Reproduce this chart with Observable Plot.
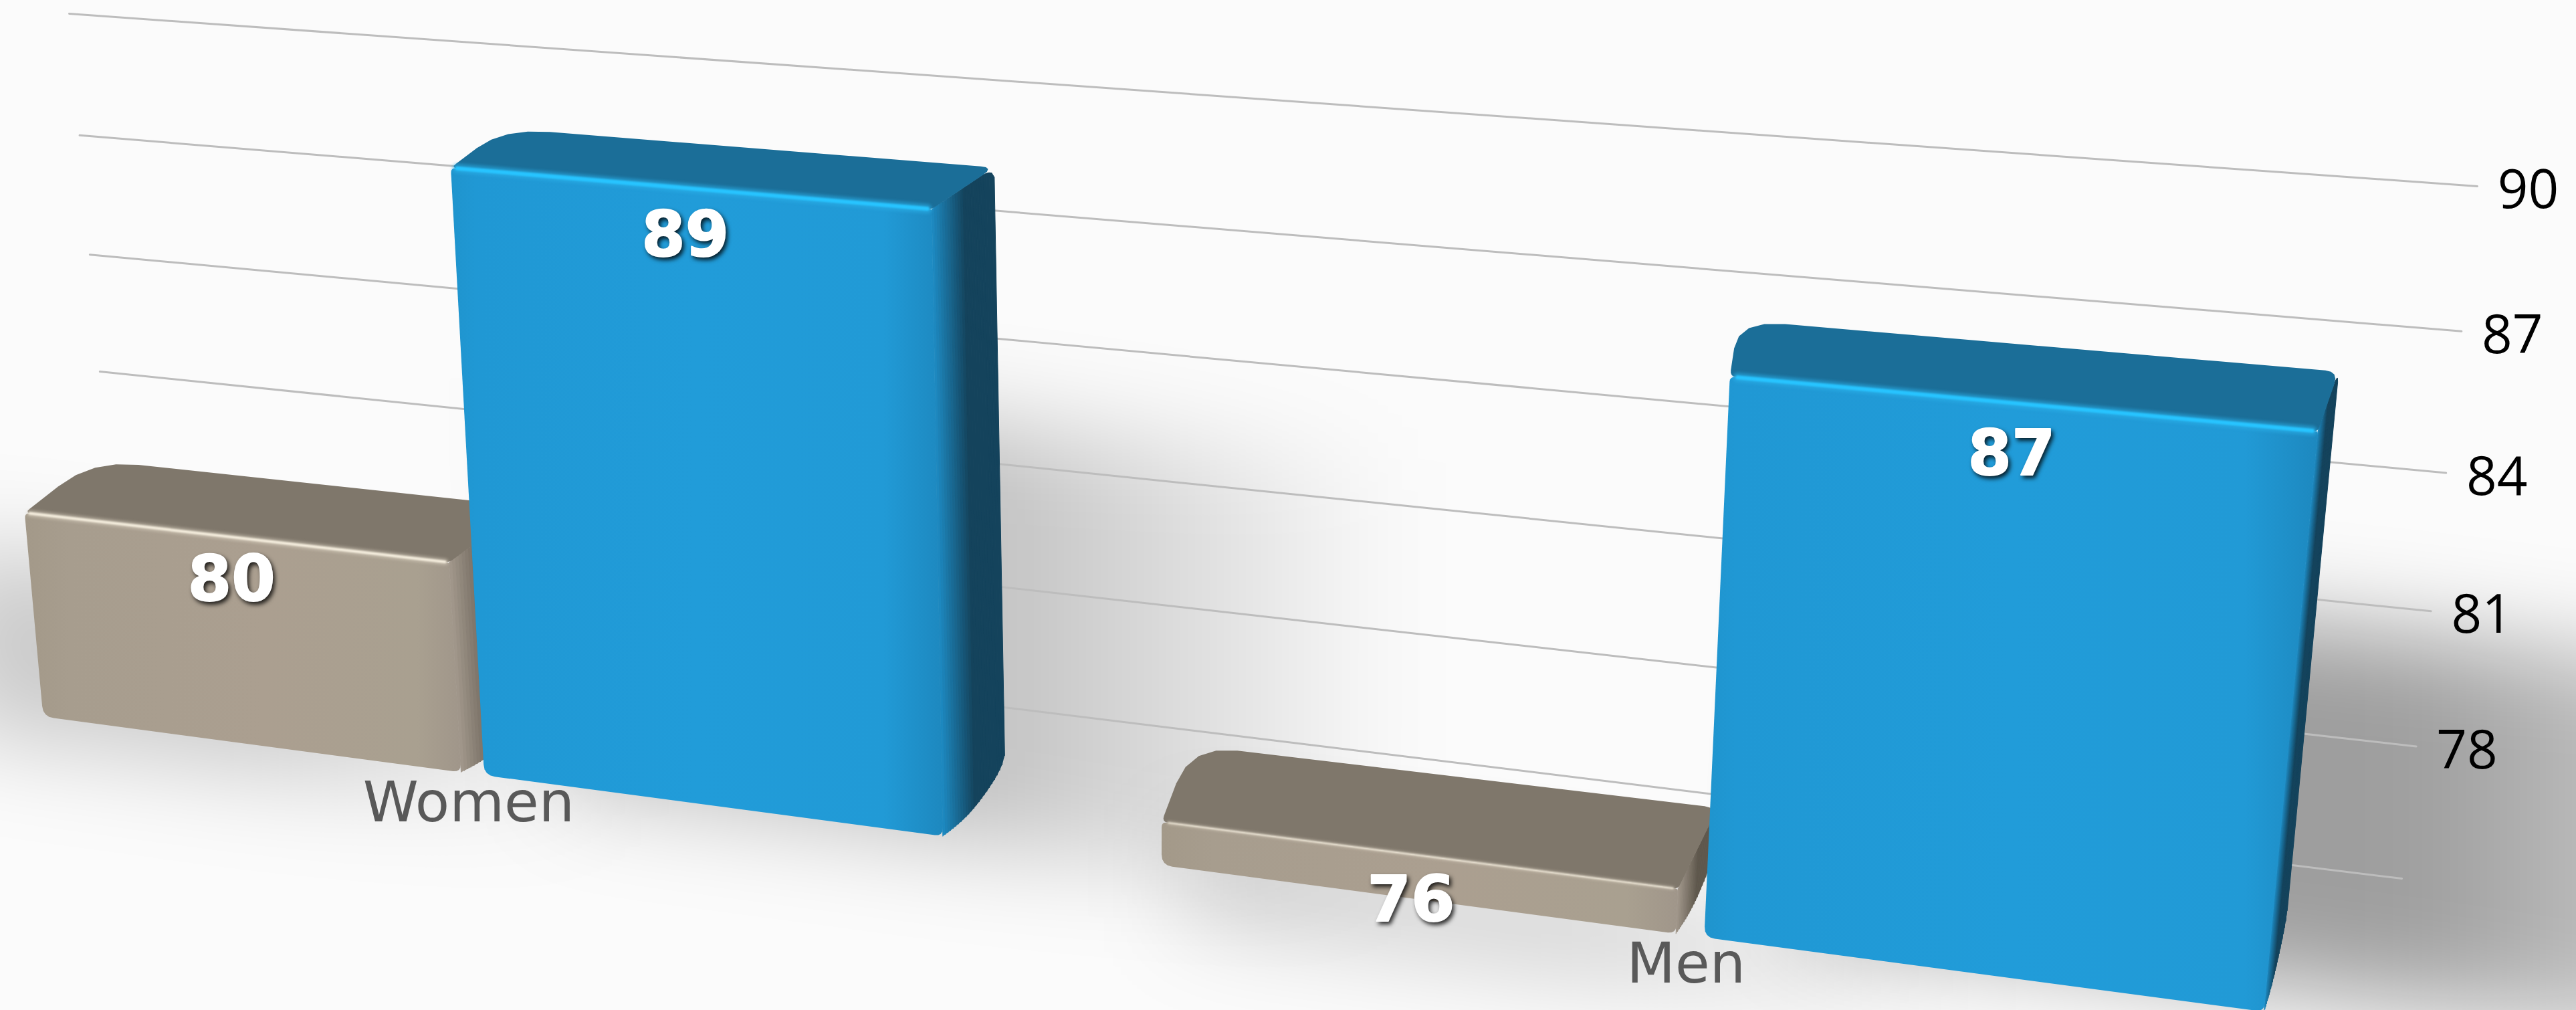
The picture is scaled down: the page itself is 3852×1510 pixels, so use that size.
<!DOCTYPE html>
<html>
<head>
<meta charset="utf-8">
<style>
  html, body { margin: 0; padding: 0; background: #fbfbfb; }
  svg { display: block; }
</style>
<script src="https://cdn.jsdelivr.net/npm/d3@7"></script>
<script src="https://cdn.jsdelivr.net/npm/@observablehq/plot@0.6"></script>
</head>
<body>
<script>
// Chart values
const categories = ["Women", "Men"];
const seriesNames = ["Group A", "Group B"];
const womenValues = [80, 89];
const menValues = [76, 87];
const gridValues = [75, 78, 81, 84, 87, 90];
const tickValues = [78, 81, 84, 87, 90];

const WIDTH = 3852, HEIGHT = 1510;

// Colour sets and shadow reach for the two series; the two-item lists run per category
const palette = {
  "Group A": {
    gradient: "brownFront", top: "#7f776b", sideFrom: "#a0968a", sideTo: "#5f584d",
    glow: "#d9d0c0", edge: "#f4eddd", edgeWidth: [4, 2],
    shadow: {before: [0.05, -0.01], after: [0.08, 0.12], below: [0.7, 1.2], rise: 0.8, opacity: [0.19, 0.17]}
  },
  "Group B": {
    gradient: "blueFront", top: "#1b6e98", sideFrom: "#1d88bf", sideTo: "#14435c",
    glow: "#2aaee8", edge: "#27c4ff", edgeWidth: [6, 5],
    shadow: {before: [-0.04, -0.04], after: [0.2, 0.25], below: [0.1, -0.6], rise: 0.68, opacity: [0.23, 0.37]}
  }
};

// Plot scales: value to chart height, category and series to chart breadth
const valueScale = Plot.scale({y: {domain: [75, 90], range: [0, 1]}});
const categoryScale = Plot.scale({x: {type: "band", domain: categories, range: [0, 1], paddingInner: 0.18, paddingOuter: 0, round: false}});
const seriesScale = Plot.scale({x: {type: "band", domain: seriesNames, range: [0, categoryScale.bandwidth], paddingInner: 0.05, paddingOuter: 0, round: false}});

// Perspective map from the unit square onto a screen quadrilateral
function quadMap([p0, p1, p2, p3]) {
  const [x0, y0] = p0, [x1, y1] = p1, [x2, y2] = p2, [x3, y3] = p3;
  const dx1 = x1 - x2, dx2 = x3 - x2, sx = x0 - x1 + x2 - x3;
  const dy1 = y1 - y2, dy2 = y3 - y2, sy = y0 - y1 + y2 - y3;
  const den = dx1 * dy2 - dx2 * dy1;
  const g = (sx * dy2 - dx2 * sy) / den, h = (dx1 * sy - sx * dy1) / den;
  const a = x1 - x0 + g * x1, b = x3 - x0 + h * x3;
  const d = y1 - y0 + g * y1, e = y3 - y0 + h * y3;
  return (u, t) => {
    const w = g * u + h * t + 1;
    return [(a * u + b * t + x0) / w, (d * u + e * t + y0) / w];
  };
}

// Camera set-up: plane of the bar fronts, back wall, and the drift of depth on screen
const frontPlane = quadMap([[64, 1071], [3385, 1512], [3487, 414], [-22, 125]]);
const wallPlane = quadMap([[178, 895], [3591, 1313], [3704, 278], [103, 20]]);
const bend = (u) => (u > 0 ? u ** 1.015 : u);

// Project a bar-space point: breadth u, value v, depth fraction k (0 front, 1 back)
function project(u, v, k = 0) {
  const [x, y] = frontPlane(bend(u), valueScale.apply(v));
  return [x + (4500 - x) * 0.03 * k, y + (-950 - y) * (0.044 + 0.012 * u) * k];
}
const wallPoint = (u, v) => wallPlane(u, valueScale.apply(v));

// Replace polygon corners with short faceted arcs
function rounded(points, radii) {
  const out = [];
  const n = points.length;
  points.forEach((p, i) => {
    const a = points[(i + n - 1) % n], b = points[(i + 1) % n], r = radii[i];
    const la = Math.hypot(a[0] - p[0], a[1] - p[1]), lb = Math.hypot(b[0] - p[0], b[1] - p[1]);
    const ra = Math.min(r, la / 2), rb = Math.min(r, lb / 2);
    const s = [p[0] + (a[0] - p[0]) * ra / la, p[1] + (a[1] - p[1]) * ra / la];
    const e = [p[0] + (b[0] - p[0]) * rb / lb, p[1] + (b[1] - p[1]) * rb / lb];
    for (let t = 0; t <= 1.001; t += 0.25) {
      const q = 1 - t;
      out.push([q * q * s[0] + 2 * q * t * p[0] + t * t * e[0], q * q * s[1] + 2 * q * t * p[1] + t * t * e[1]]);
    }
  });
  return out;
}

const polygon = (points, options) => Plot.line(points, {x: (d) => d[0], y: (d) => d[1], stroke: "none", ...options});

// Bar records, left to right so that nearer bars paint last
const bars = categories.flatMap((category, c) =>
  seriesNames.map((series, s) => {
    const value = (c === 0 ? womenValues : menValues)[s];
    const u0 = categoryScale.apply(category) + seriesScale.apply(series);
    return {category, series, value, c, u0, u1: u0 + seriesScale.bandwidth};
  })
);

// Soft cast shadows that fade out to the right of each bar
const shadowMarks = bars.map((b) => {
  const {before, after, below, rise, opacity} = palette[b.series].shadow;
  const top = 75 + rise * (b.value - 75), bottom = 75 - below[b.c];
  const left = b.u0 - before[b.c], right = b.u1 + after[b.c];
  return polygon(
    [project(left, bottom), project(right, bottom), project(right, top), project(left, top)],
    {fill: "url(#shadowFade)", fillOpacity: opacity[b.c], imageFilter: "blur(70px)"}
  );
});

// One bar: shaded right side, top face, front face and lit front edge
function barMarks(b) {
  const look = palette[b.series];
  const marks = [];
  const ramp = d3.interpolateRgb(look.sideFrom, look.sideTo);
  const steps = 24;
  const trim = (k) => (k > 0.8 ? 0.22 * (1 - Math.sqrt(Math.max(0, 1 - ((k - 0.8) / 0.2) ** 2))) : 0);
  const foot = (k) => 75 - 0.2 * Math.sin(Math.PI * k) + 0.9 * trim(k);
  for (let i = 0; i < steps; i++) {
    const k0 = i / steps, k1 = (i + 1) / steps;
    const color = ramp(Math.min(1, k0 / 0.5));
    marks.push(polygon(
      [project(b.u1, foot(k0), k0), project(b.u1, b.value - trim(k0), k0), project(b.u1, b.value - trim(k1), k1), project(b.u1, foot(k1), k1)],
      {fill: color, stroke: color, strokeWidth: 1}
    ));
  }
  marks.push(polygon(
    rounded([project(b.u0, b.value), project(b.u0 - 0.012, b.value, 1), project(b.u1, b.value, 1), project(b.u1, b.value)], [10, 70, 20, 6]),
    {fill: look.top}
  ));
  marks.push(polygon(
    rounded([project(b.u0, 75), project(b.u0, b.value), project(b.u1, b.value), project(b.u1, 75)], [16, 8, 4, 12]),
    {fill: `url(#${look.gradient})`}
  ));
  const edge = [project(b.u0 + 0.003, b.value), project(b.u1 - 0.002, b.value)];
  const width = look.edgeWidth[b.value >= 80 ? 0 : 1];
  marks.push(Plot.line(edge, {x: (d) => d[0], y: (d) => d[1], stroke: look.glow, strokeWidth: width * 2.4, strokeOpacity: 0.55, imageFilter: "blur(2px)"}));
  marks.push(Plot.line(edge, {x: (d) => d[0], y: (d) => d[1], stroke: look.edge, strokeWidth: width, imageFilter: "blur(0.8px)"}));
  return marks;
}

// Gradients for the front faces and shadows, added as an SVG fragment in the plot
function gradientDefs() {
  const ns = "http://www.w3.org/2000/svg";
  const defs = document.createElementNS(ns, "defs");
  const stops = {
    blueFront: [[0, "#1f94cd", 1], [0.05, "#2098d4", 1], [0.5, "#219cd9", 1], [0.88, "#219ad6", 1], [1, "#1d88bf", 1]],
    brownFront: [[0, "#a39989", 1], [0.1, "#a79d8e", 1], [0.55, "#ab9f90", 1], [0.9, "#a9a090", 1], [1, "#a0968a", 1]],
    shadowFade: [[0, "#000", 1], [0.5, "#000", 1], [1, "#000", 0]]
  };
  for (const [id, list] of Object.entries(stops)) {
    const g = document.createElementNS(ns, "linearGradient");
    g.setAttribute("id", id);
    for (const [offset, color, alpha] of list) {
      const stop = document.createElementNS(ns, "stop");
      stop.setAttribute("offset", offset);
      stop.setAttribute("stop-color", color);
      stop.setAttribute("stop-opacity", alpha);
      g.appendChild(stop);
    }
    defs.appendChild(g);
  }
  return defs;
}

// Wall grid lines and their value labels
const gridMarks = gridValues.map((v) =>
  Plot.line([wallPoint(0, v), wallPoint(1, v)], {x: (d) => d[0], y: (d) => d[1], stroke: "#bdbdbd", strokeWidth: 3})
);
const tickRows = tickValues.map((v) => ({v, at: wallPoint(1, v)}));

// Value labels sit one unit below the top of each bar
const labelRows = bars.map((b) => ({text: String(b.value), at: project((b.u0 + b.u1) / 2, b.value - 1)}));

// Category names sit under the seam of each bar pair
const categoryRows = categories.map((name) => ({
  name,
  at: project(categoryScale.apply(name) + categoryScale.bandwidth / 2, 75)
}));

const chart = Plot.plot({
  width: WIDTH,
  height: HEIGHT,
  margin: 0,
  x: {type: "identity", axis: null},
  y: {type: "identity", axis: null},
  style: {background: "#fbfbfb"},
  marks: [
    gradientDefs,
    ...shadowMarks,
    ...gridMarks,
    Plot.text(tickRows, {
      x: (d) => d.at[0], y: (d) => d.at[1], text: (d) => String(d.v),
      dx: 76, dy: 7, fontSize: 80, fontFamily: "Open Sans", fill: "#000", textAnchor: "middle", lineAnchor: "middle"
    }),
    ...bars.flatMap(barMarks),
    Plot.text(categoryRows, {
      x: (d) => d.at[0], y: (d) => d.at[1], text: "name",
      dx: -6, dy: 44, fontSize: 84, fontFamily: "DejaVu Sans", fill: "#595959", textAnchor: "middle", lineAnchor: "middle"
    }),
    Plot.text(labelRows, {
      x: (d) => d.at[0], y: (d) => d.at[1], text: "text",
      dx: -4, dy: 3,
      fontSize: 94, fontWeight: "bold", fontFamily: "DejaVu Sans", fill: "#fff", stroke: "#fff", strokeWidth: 2,
      textAnchor: "middle", lineAnchor: "middle",
      imageFilter: "drop-shadow(3px 4px 3px rgba(0,0,0,0.8))"
    })
  ]
});
document.body.appendChild(chart);
</script>
</body>
</html>
